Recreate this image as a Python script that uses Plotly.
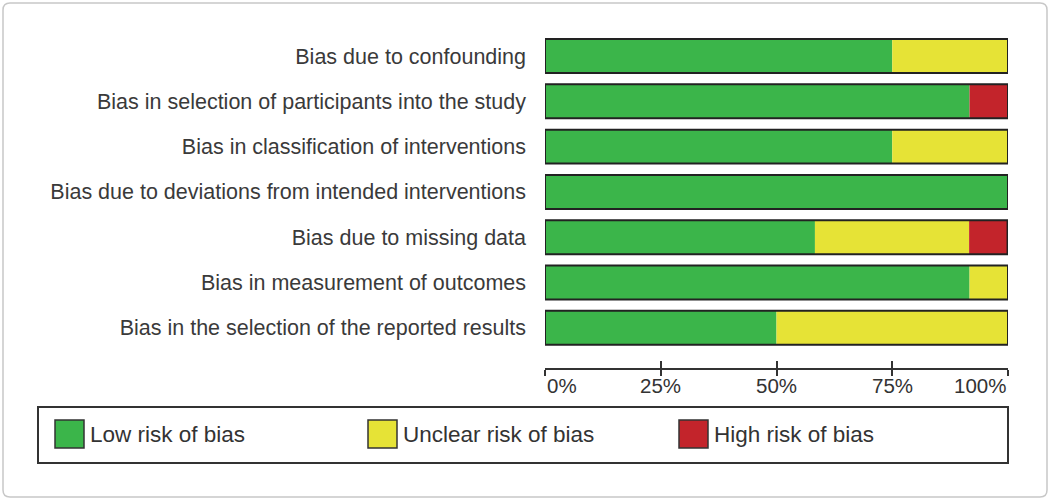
import plotly.graph_objects as go

# risk of bias domains, top to bottom
domains = [
    "Bias due to confounding",
    "Bias in selection of participants into the study",
    "Bias in classification of interventions",
    "Bias due to deviations from intended interventions",
    "Bias due to missing data",
    "Bias in measurement of outcomes",
    "Bias in the selection of the reported results",
]

# percent of studies per judgement
low_risk = [75.0, 91.7, 75.0, 100.0, 58.3, 91.7, 50.0]
unclear_risk = [25.0, 0.0, 25.0, 0.0, 33.3, 8.3, 50.0]
high_risk = [0.0, 8.3, 0.0, 0.0, 8.3, 0.0, 0.0]

tick_vals = [0, 25, 50, 75, 100]
tick_text = ["0%", "25%", "50%", "75%", "100%"]

legend_names = ["Low risk of bias", "Unclear risk of bias", "High risk of bias"]
colors = ["#3bb54a", "#e6e336", "#c3242b"]

W, H = 1050, 501
L, R, T, B = 545, 1008, 33, 368  # plot area in pixels


def px_x(p):
    return (p - L) / (R - L)


def px_y(p):
    return (B - p) / (B - T)


fig = go.Figure()

base_unclear = [a for a in low_risk]
base_high = [a + b for a, b in zip(low_risk, unclear_risk)]
totals = [a + b + c for a, b, c in zip(low_risk, unclear_risk, high_risk)]

for vals, base, name, col in [
    (low_risk, [0] * len(domains), legend_names[0], colors[0]),
    (unclear_risk, base_unclear, legend_names[1], colors[1]),
    (high_risk, base_high, legend_names[2], colors[2]),
]:
    fig.add_trace(go.Bar(
        y=domains, x=vals, base=base, orientation="h", name=name,
        width=0.75, marker=dict(color=col, line=dict(width=0)),
        showlegend=False,
    ))

# dark outline around each full bar
fig.add_trace(go.Bar(
    y=domains, x=totals, base=[0] * len(domains), orientation="h",
    width=0.75, marker=dict(color="rgba(0,0,0,0)", line=dict(color="#222222", width=2)),
    showlegend=False, hoverinfo="skip",
))

# x tick labels (edge labels sit inside the axis ends)
for v, t in zip(tick_vals, tick_text):
    anchor = "left" if v == tick_vals[0] else ("right" if v == tick_vals[-1] else "center")
    fig.add_annotation(
        x=v, xref="x", y=px_y(386), yref="paper", text=t, showarrow=False,
        xanchor=anchor, yanchor="middle",
        font=dict(family="Liberation Sans, Arial", size=20.5, color="#333333"),
    )

# legend drawn in a box below the axis, plus the outer rounded frame
shapes = [
    dict(type="rect", xref="paper", yref="paper",
         x0=px_x(38), x1=px_x(1008), y0=px_y(407), y1=px_y(463),
         line=dict(color="#333333", width=2), fillcolor="white", layer="below"),
    dict(type="path", xref="paper", yref="paper",
         path="M {a},{b} L {c},{b} Q {d},{b} {d},{e} L {d},{f} Q {d},{g} {c},{g} L {a},{g} Q {h},{g} {h},{f} L {h},{e} Q {h},{b} {a},{b} Z".format(
             a=px_x(10), b=px_y(3), c=px_x(1040), d=px_x(1047), e=px_y(10),
             f=px_y(490), g=px_y(497), h=px_x(3)),
         line=dict(color="#c8c8c8", width=1.5), layer="below"),
]
legend_x = [55, 368, 679]
for lx, name, col in zip(legend_x, legend_names, colors):
    shapes.append(dict(type="rect", xref="paper", yref="paper",
                       x0=px_x(lx), x1=px_x(lx + 29), y0=px_y(420), y1=px_y(448),
                       line=dict(color="#333333", width=1.5), fillcolor=col))
    fig.add_annotation(
        x=px_x(lx + 33), xref="paper", y=px_y(434), yref="paper", text=name,
        showarrow=False, xanchor="left", yanchor="middle",
        font=dict(family="Liberation Sans, Arial", size=22.5, color="#333333"),
    )

fig.update_layout(
    width=W, height=H,
    margin=dict(l=L, r=W - R, t=T, b=H - B),
    barmode="overlay",
    plot_bgcolor="white", paper_bgcolor="white",
    shapes=shapes,
    xaxis=dict(range=[0, 100], tickvals=tick_vals, showticklabels=False,
               showgrid=False, zeroline=False, showline=True, linecolor="#333333",
               linewidth=2, ticks="outside", ticklen=6, tickwidth=2, tickcolor="#333333",
               fixedrange=True),
    xaxis2=dict(range=[0, 100], overlaying="x", anchor="y", side="bottom",
                tickvals=tick_vals, showticklabels=False, showgrid=False,
                zeroline=False, showline=False, ticks="inside", ticklen=7,
                tickwidth=2, tickcolor="#333333"),
    yaxis=dict(range=[6.887, -0.508], showgrid=False, zeroline=False, showline=False,
               ticks="", ticklabelstandoff=18,
               tickfont=dict(family="Liberation Sans, Arial", size=21.5, color="#3a3a3a")),
)

# invisible trace so the second x axis is drawn
fig.add_trace(go.Scatter(x=[0], y=[domains[0]], xaxis="x2", mode="markers",
                         marker=dict(opacity=0), showlegend=False, hoverinfo="skip"))

# drop the default page margin so the figure fills the window
fig.write_html("out.html", config={"displayModeBar": False},
               post_script="document.body.style.margin='0px';")
